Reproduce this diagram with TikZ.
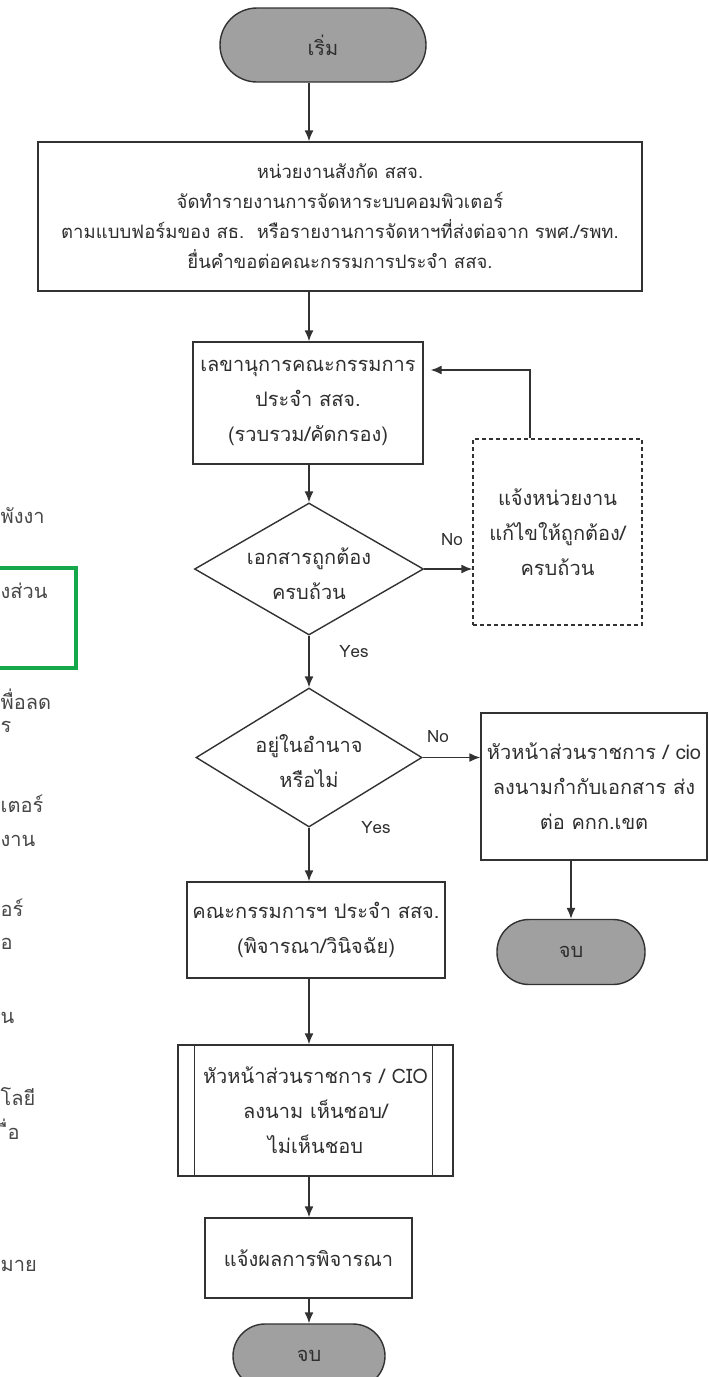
\documentclass[tikz,border=0pt]{standalone}
\usepackage{fontspec}
\newfontfamily\thaifont[Script=Thai]{Loma}
\usetikzlibrary{arrows.meta}
\usetikzlibrary{shapes.geometric}

\definecolor{inkgray}{RGB}{50,50,50}
\definecolor{termgray}{RGB}{160,160,160}
\definecolor{markgreen}{RGB}{20,168,75}

\newcommand{\boxfont}{\thaifont\fontsize{20}{35}\selectfont}
\newcommand{\wideboxfont}{\thaifont\fontsize{18.5}{30}\selectfont}
\newcommand{\fragfont}{\thaifont\fontsize{20}{30}\selectfont}

\begin{document}
\begin{tikzpicture}[
        x=1pt, y=-1pt,
        >={Latex[length=11pt,width=9pt]}, line width=1.4pt,
        box/.style={draw=inkgray, rectangle, inner sep=0pt, align=center,
                    font=\boxfont, text=black!82},
        term/.style={draw=inkgray, fill=termgray, inner sep=0pt,
                     font=\boxfont, text=black!82},
        decision/.style={draw=inkgray, diamond, inner sep=0pt},
        dectext/.style={align=center, font=\boxfont, text=black!82},
        yesno/.style={font=\thaifont\fontsize{17}{20}\selectfont, text=black!82},
        frag/.style={anchor=west, font=\fragfont, text=black!72, inner sep=0pt},
    ]

    \useasboundingbox (0,0) rectangle (709,1377);
    \clip (0,0) rectangle (709,1377);

    \coordinate (col) at (309,0);

    % main column
    \node[term, minimum width=206pt, minimum height=74pt, rounded corners=37pt]
        (start) at (323,45) {เริ่ม};
    \node[box, font=\wideboxfont, minimum width=604pt, minimum height=149pt]
        (box1) at (340,216.5)
        {หน่วยงานสังกัด สสจ.\\
         จัดทำรายงานการจัดหาระบบคอมพิวเตอร์\\
         ตามแบบฟอร์มของ สธ.~~หรือรายงานการจัดหาฯที่ส่งต่อจาก รพศ./รพท.\\
         ยื่นคำขอต่อคณะกรรมการประจำ สสจ.};
    \node[box, minimum width=230pt, minimum height=122pt] (box2) at (308,403)
        {เลขานุการคณะกรรมการ\\ประจำ สสจ.\\(รวบรวม/คัดกรอง)};
    \node[decision, minimum width=229pt, minimum height=132pt] (dec1) at (309,569) {};
    \node[dectext] (dec1text) at (309,574) {เอกสารถูกต้อง\\ครบถ้วน};
    \node[box, dash pattern=on 4pt off 3pt, minimum width=169pt, minimum height=186pt]
        (fix) at (557.5,532) {แจ้งหน่วยงาน\\แก้ไขให้ถูกต้อง/\\ครบถ้วน};
    \node[decision, minimum width=226pt, minimum height=139pt] (dec2) at (309,757.5) {};
    \node[dectext] (dec2text) at (309,761) {อยู่ในอำนาจ\\หรือไม่};
    \node[box, minimum width=226pt, minimum height=147pt] (box3) at (594,786.5)
        {หัวหน้าส่วนราชการ / cio\\ลงนามกำกับเอกสาร ส่ง\\ต่อ คกก.เขต};
    \node[term, minimum width=148pt, minimum height=65pt, rounded corners=32pt]
        (end2) at (571,952) {จบ};
    \node[box, minimum width=258pt, minimum height=96pt] (box4) at (316,930)
        {คณะกรรมการฯ ประจำ สสจ.\\(พิจารณา/วินิจฉัย)};
    \node[box, minimum width=275pt, minimum height=131pt] (box5) at (315.5,1110.5)
        {หัวหน้าส่วนราชการ / CIO\\ลงนาม เห็นชอบ/\\ไม่เห็นชอบ};
    \draw[inkgray] ([xshift=17pt]box5.north west) -- ([xshift=17pt]box5.south west);
    \draw[inkgray] ([xshift=-21pt]box5.north east) -- ([xshift=-21pt]box5.south east);
    \node[box, minimum width=207pt, minimum height=80pt] (box6) at (308.5,1258)
        {แจ้งผลการพิจารณา};
    \node[term, minimum width=152pt, minimum height=64pt, rounded corners=32pt]
        (end1) at (309,1356) {จบ};

    % labels
    \node[yesno] (no1) at (452,540) {No};
    \node[yesno] (yes1) at (354,652) {Yes};
    \node[yesno] (no2) at (438,737) {No};
    \node[yesno] (yes2) at (376,828) {Yes};

    % connectors
    \draw[->, inkgray] (start.south -| col) -- (box1.north -| col);
    \draw[->, inkgray] (box1.south -| col) -- (box2.north -| col);
    \draw[->, inkgray] (box2.south -| col) -- (dec1.north);
    \draw[->, inkgray] (dec1.east) -- (fix.west |- dec1.east);
    \draw[->, inkgray] ([xshift=-27.5pt]fix.north) |- ([xshift=7pt,yshift=33pt]box2.east);
    \draw[->, inkgray] (dec1.south) -- (dec2.north);
    \draw[->, inkgray] (dec2.east) -- (box3.west |- dec2.east);
    \draw[->, inkgray] (box3.south -| end2) -- (end2.north);
    \draw[->, inkgray] (dec2.south) -- (box4.north -| dec2.south);
    \draw[->, inkgray] (box4.south -| col) -- (box5.north -| col);
    \draw[->, inkgray] (box5.south -| col) -- (box6.north -| col);
    \draw[->, inkgray] (box6.south -| col) -- (end1.north -| col);

    % cut-off text of the page beside it
    \node[frag] (f1) at (0,516) {พังงา};
    \node[frag] (f2) at (0,591) {งส่วน};
    \draw[markgreen, line width=4.5pt] (-10,568) rectangle (76,668);
    \node[frag] (f3) at (0,699) {พื่อลด};
    \node[frag] (f4) at (0,727) {ร};
    \node[frag] (f5) at (0,804) {เตอร์};
    \node[frag] (f6) at (0,841) {งาน};
    \node[frag] (f7) at (0,908) {อร์};
    \node[frag] (f8) at (0,944) {อ};
    \node[frag] (f9) at (0,1018) {น};
    \node[frag] (f10) at (0,1097) {โลยี};
    \node[frag] (f11) at (7,1129) {ื่อ};
    \node[frag] (f12) at (0,1266) {มาย};

\end{tikzpicture}
\end{document}
